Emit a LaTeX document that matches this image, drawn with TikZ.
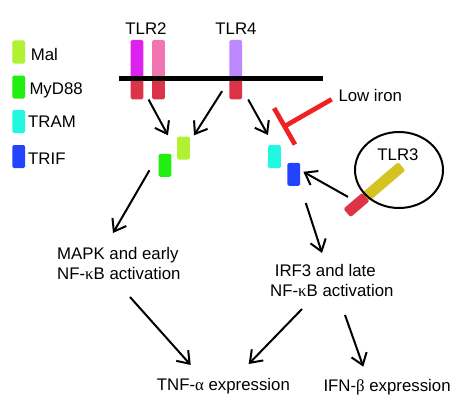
\documentclass[tikz,border=0pt]{standalone}
\usepackage{fontspec}
\setmainfont{Liberation Sans}
\newfontfamily\grk{Liberation Serif}
\usetikzlibrary{arrows.meta}

\definecolor{malc}{HTML}{B0F232}
\definecolor{mydc}{HTML}{22EE11}
\definecolor{tramc}{HTML}{22F8E0}
\definecolor{trifc}{HTML}{2244FF}
\definecolor{tlrmag}{HTML}{DD22F0}
\definecolor{tlrpink}{HTML}{F075B0}
\definecolor{tlrlav}{HTML}{BB88FF}
\definecolor{recred}{HTML}{DD3348}
\definecolor{tlryel}{HTML}{D4C422}
\definecolor{inhred}{HTML}{EE2222}

\newcommand{\gkappa}{{\grk κ}}
\newcommand{\galpha}{{\grk α}}
\newcommand{\gbeta}{{\grk β}}

\tikzset{
  prot/.style={rectangle, rounded corners=1.5pt, inner sep=0pt,
    minimum width=12.7pt, minimum height=23pt},
  rec/.style={prot, minimum height=40pt},
  recin/.style={prot, fill=recred, minimum height=19.3pt},
  lbl/.style={inner sep=0pt, font=\fontsize{16.8}{20}\selectfont},
  arr/.style={-{Straight Barb[length=11pt,width=16pt]}, line width=2pt},
  inh/.style={-{Bar[width=42pt]}, line width=4.7pt, draw=inhred},
}

\begin{document}
\begin{tikzpicture}[x=1pt, y=-1pt]
    \useasboundingbox (0,0) rectangle (468,412);

    % LEFT: legend
    \node[prot, fill=malc] (legmal) at (18.7,52) {};
    \node[prot, fill=mydc] (legmyd) at (18.7,87) {};
    \node[prot, fill=tramc] (legtram) at (18.7,121.5) {};
    \node[prot, fill=trifc] (legtrif) at (18.7,156.5) {};
    \node[lbl, anchor=base west] (legmaltxt) at (30.7,60.3) {Mal};
    \node[lbl, anchor=base west] (legmydtxt) at (29.3,94) {MyD88};
    \node[lbl, anchor=base west] (legtramtxt) at (28,127) {TRAM};
    \node[lbl, anchor=base west] (legtriftxt) at (28,164.5) {TRIF};

    % TOP: receptors in the membrane
    \node[rec, fill=tlrmag] (tlr2a) at (137,60) {};
    \node[recin] (tlr2ain) at (137,89.65) {};
    \node[rec, fill=tlrpink] (tlr2b) at (158.5,60) {};
    \node[recin] (tlr2bin) at (158.5,89.65) {};
    \node[rec, fill=tlrlav] (tlr4) at (235.65,60) {};
    \node[recin] (tlr4in) at (235.65,89.65) {};
    \draw[line width=5pt] (119,78.7) -- (323,78.7); % membrane
    \node[lbl, anchor=base] (tlr2lab) at (146,35) {TLR2};
    \node[lbl, anchor=base] (tlr4lab) at (236,35) {TLR4};

    % Adaptors
    \node[prot, fill=malc] (mal) at (183.5,148) {};
    \node[prot, fill=mydc] (myd) at (165,165.3) {};
    \node[prot, fill=tramc] (tram) at (274.5,156.7) {};
    \node[prot, fill=trifc] (trif) at (293.8,174.3) {};

    % RIGHT: TLR3 in its endosome
    \node[prot, fill=recred, minimum width=25pt, minimum height=11pt, rotate=40.5] (tlr3in) at (356.5,204.9) {};
    \node[prot, fill=tlryel, minimum width=47pt, minimum height=11pt, rotate=40.5] (tlr3) at (383.9,181.5) {};
    \draw[line width=2pt] (399,170) ellipse [x radius=44pt, y radius=38pt];
    \node[lbl, anchor=base] (tlr3lab) at (398,160) {TLR3};

    % Low iron block
    \node[lbl, anchor=base west] (iron) at (338.3,101.7) {Low iron};
    \coordinate (block) at (282.5,127.5);
    \draw[inh] ([shift={(-6.6,3.6)}]iron.west) -- (block);

    % Outputs
    \node[lbl, align=left, anchor=north west] (mapk) at (57,247) {MAPK and early\\NF-\gkappa B activation};
    \node[lbl, align=left, anchor=north west] (irf) at (270,264) {\hspace*{4.7pt}IRF3 and late\\NF-\gkappa B activation};
    \node[lbl, anchor=base west] (tnf) at (156.7,390) {TNF-\galpha\ expression};
    \node[lbl, anchor=base west] (ifn) at (323.3,391.7) {IFN-\gbeta\ expression};

    % Signalling arrows
    \draw[arr] ([shift={(5,0)}]tlr2ain.south east) -- ([shift={(-9,-1)}]mal.north west);
    \draw[arr] ([shift={(-7,1.5)}]tlr4in.west) -- ([shift={(10.5,-1)}]mal.north);
    \draw[arr] ([shift={(6,0)}]tlr4in.south east) -- ([shift={(0,-10)}]tram.north west);
    \draw[arr] ([shift={(-9,5)}]myd.west) -- ([shift={(56,-14)}]mapk.north west);
    \draw[arr] ([shift={(-8.5,-8)}]tlr3in.center) -- ([shift={(3,-2.5)}]trif.east);
    \draw[arr] ([shift={(12,17)}]trif.south) -- ([shift={(52,-11)}]irf.north west);
    \draw[arr] ([shift={(73,50)}]mapk.north west) -- ([shift={(34,-25)}]tnf.base west);
    \draw[arr] ([shift={(32,45)}]irf.north west) -- ([shift={(92,-26)}]tnf.base west);
    \draw[arr] ([shift={(75,51)}]irf.north west) -- ([shift={(40,-25)}]ifn.base west);
\end{tikzpicture}
\end{document}
